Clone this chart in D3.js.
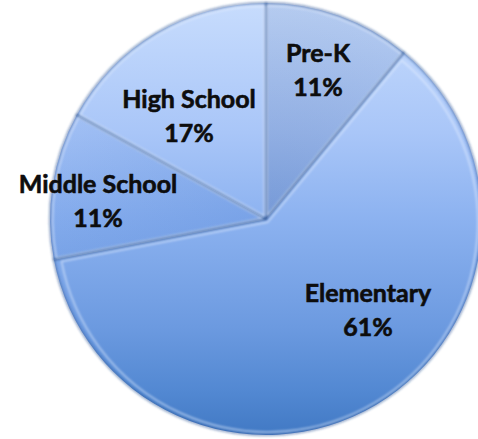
<!DOCTYPE html>
<html>
<head>
<meta charset="utf-8">
<script src="https://cdn.jsdelivr.net/npm/d3@7"></script>
<style>
  html, body { margin: 0; padding: 0; background: #ffffff; }
  svg { display: block; }
</style>
</head>
<body>
<svg id="chart" width="478" height="439"></svg>
<script>
// Enrollment share by school level
const categories = ["Pre-K", "Elementary", "Middle School", "High School"];
const values = [11, 61, 11, 17];
// per-slice shade: overlay colour and strength
const shadeColor = ["#33528f", "#2b62c0", "#2a63c4", "#2b62c0"];
const shadeTint = [0.26, 0, 0.2, 0];

const width = 478, height = 439;
const cx = 266, cy = 219, radius = 216;

const svg = d3.select("#chart");
const defs = svg.append("defs");

// vertical sheen across the whole pie (coordinates local to the pie group)
const grad = defs.append("linearGradient")
  .attr("id", "pieFill")
  .attr("gradientUnits", "userSpaceOnUse")
  .attr("x1", 0).attr("y1", -radius)
  .attr("x2", 0).attr("y2", radius);
[[0, "#c7dcfd"], [0.3, "#a9c6f8"], [0.5, "#8cb2f0"], [0.75, "#6c9ae0"], [0.9, "#5288d2"], [1, "#4179c4"]]
  .forEach(([o, c]) => grad.append("stop").attr("offset", o).attr("stop-color", c));

// darkening toward the centre for shaded slices, one gradient per slice colour
shadeColor.forEach((c, i) => {
  const rad = defs.append("radialGradient")
    .attr("id", "centreShade" + i)
    .attr("gradientUnits", "userSpaceOnUse")
    .attr("cx", 0).attr("cy", 0).attr("r", radius);
  rad.append("stop").attr("offset", 0).attr("stop-color", c).attr("stop-opacity", 1);
  rad.append("stop").attr("offset", 1).attr("stop-color", c).attr("stop-opacity", 0.45);
});

const blur = defs.append("filter").attr("id", "soft")
  .attr("x", "-5%").attr("y", "-5%").attr("width", "110%").attr("height", "110%");
blur.append("feGaussianBlur").attr("stdDeviation", 1.1);

const pie = d3.pie().sort(null).value(d => d)(values);
const arc = d3.arc().innerRadius(0).outerRadius(radius);
const insetArc = d3.arc().innerRadius(0).outerRadius(radius - 6);

const g = svg.append("g").attr("transform", `translate(${cx},${cy})`);

// base fill
g.append("g").selectAll("path")
  .data(pie)
  .join("path")
  .attr("d", arc)
  .attr("fill", "url(#pieFill)");

// per-slice tint
g.append("g").selectAll("path")
  .data(pie)
  .join("path")
  .attr("d", arc)
  .attr("fill", (d, i) => `url(#centreShade${i})`)
  .attr("opacity", (d, i) => shadeTint[i]);

// bevel: dark rim along slice outlines
g.append("g").attr("filter", "url(#soft)").selectAll("path")
  .data(pie)
  .join("path")
  .attr("d", arc)
  .attr("fill", "none")
  .attr("stroke", "#2f5796")
  .attr("stroke-opacity", 0.5)
  .attr("stroke-width", 2.5)
  .attr("stroke-linejoin", "round");

// bevel: light edge just inside each slice
g.append("g").attr("filter", "url(#soft)").selectAll("path")
  .data(pie)
  .join("path")
  .attr("transform", d => {
    const mid = (d.startAngle + d.endAngle) / 2;
    const off = 3.5;
    return `translate(${Math.sin(mid) * off},${-Math.cos(mid) * off})`;
  })
  .attr("d", insetArc)
  .attr("fill", "none")
  .attr("stroke", "#e8f0ff")
  .attr("stroke-opacity", 0.55)
  .attr("stroke-width", 1.8)
  .attr("stroke-linejoin", "round");

// labels
const labelPos = [[318, 56], [368, 296], [98, 187], [189, 102]];
const labels = svg.append("g")
  .attr("font-family", "Lato, 'Open Sans', sans-serif")
  .attr("font-weight", "bold")
  .attr("font-size", 25)
  .attr("fill", "#0d0d0d")
  .attr("stroke", "#0d0d0d")
  .attr("stroke-width", 0.6)
  .attr("text-anchor", "middle");

pie.forEach((d, i) => {
  const t = labels.append("text")
    .attr("x", labelPos[i][0])
    .attr("y", labelPos[i][1] + 6);
  t.append("tspan").attr("x", labelPos[i][0]).attr("dy", 0).text(categories[i]);
  t.append("tspan").attr("x", labelPos[i][0]).attr("dy", 34).text(values[i] + "%");
});
</script>
</body>
</html>
